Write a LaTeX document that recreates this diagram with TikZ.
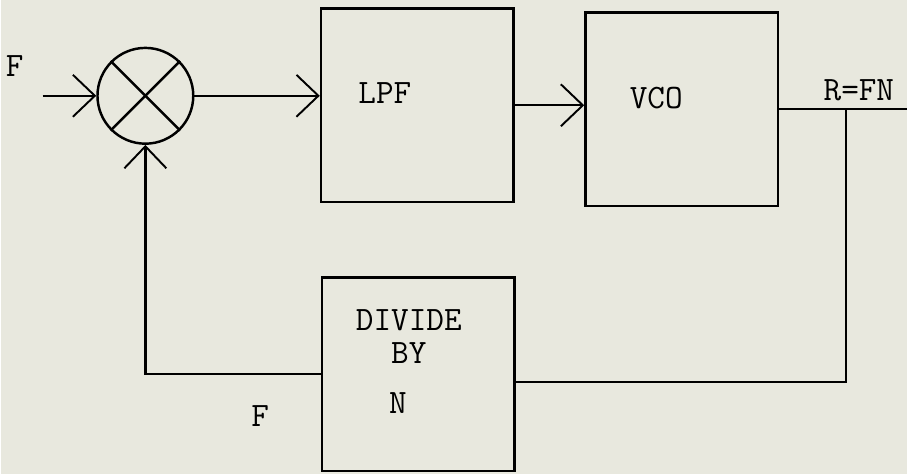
\documentclass[tikz,border=0pt]{standalone}
\usetikzlibrary{arrows.meta}
\definecolor{fond}{RGB}{232,232,222}
\begin{document}
\begin{tikzpicture}[x=0.02cm,y=-0.02cm]
            \tikzstyle{bloc}=[rectangle,draw,line width=1.4pt,minimum width=3.86cm,minimum height=3.88cm]
            \tikzstyle{trait}=[line width=1.4pt]
            \tikzstyle{fleche}=[line width=1.4pt,-{Straight Barb[length=4.4mm,width=8.4mm,line width=1.1pt]}]
            \tikzstyle{texte}=[font=\ttfamily\fontsize{19.5}{19}\selectfont,align=center]
            \fill[fond] (0,0) rectangle (908,475);
            \node[circle,draw,line width=1.4pt,minimum size=1.92cm] (mix) at (145,96) {};
            \node[bloc] (lpf) at (417.5,105.5) {};
            \node[bloc] (vco) at (682.5,109.5) {};
            \node[bloc] (div) at (418.5,375) {};
            \coordinate (entree) at (42,96);
            \coordinate (noeud) at (847,109.5);
            \coordinate (sortie) at (908,109.5);
            \draw[trait] (mix.45) -- (mix.225);
            \draw[trait] (mix.135) -- (mix.-45);
            \draw[fleche] (entree) -- (mix);
            \draw[fleche] (mix) -- (mix -| lpf.west);
            \draw[fleche] (lpf.east) -- (lpf.east -| vco.west);
            \draw[trait] (vco.east) -- (sortie);
            \draw[trait] (noeud) |- ([yshift=-0.16cm]div.east);
            \draw[fleche] (div.west) -| (mix.south);
            \node[texte] (f1) at (14,66) {F};
            \node[texte] (t1) at (385,93) {LPF};
            \node[texte] (t2) at (657,98) {VCO};
            \node[texte] (r) at (860,90) {R=FN};
            \node[texte] (t3) at (409,337) {DIVIDE\\BY};
            \node[texte] (t4) at (398,404) {N};
            \node[texte] (f2) at (260,417) {F};
        \end{tikzpicture}
\end{document}
